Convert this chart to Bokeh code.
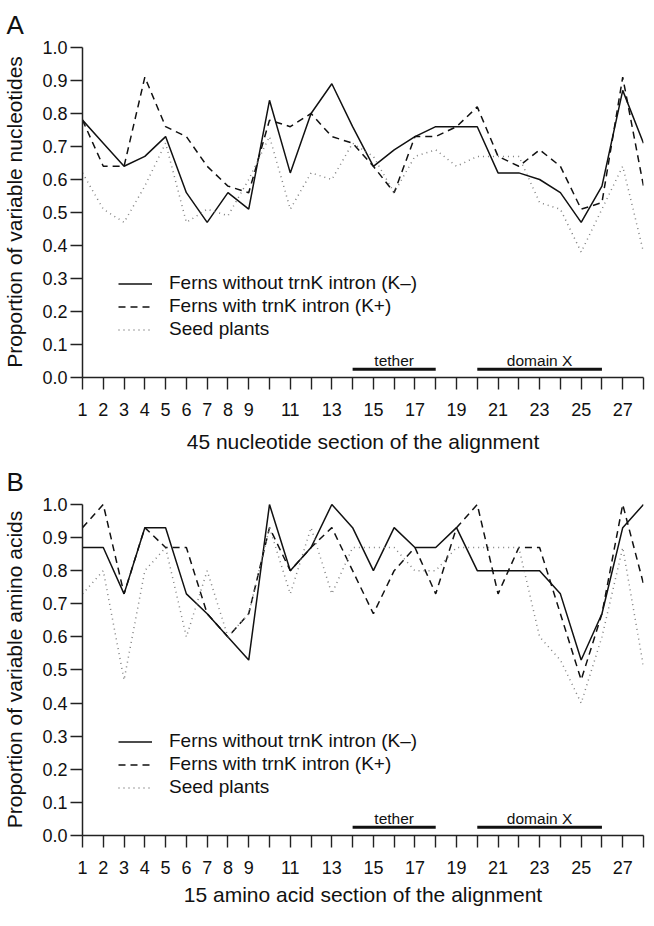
from bokeh.plotting import figure
from bokeh.models import Range1d, FixedTicker, PrintfTickFormatter
from bokeh.layouts import column
from bokeh.embed import file_html
from bokeh.resources import INLINE
from bokeh.core.properties import value

# ---------------- data ----------------
x_positions = list(range(1, 29))
x_tick_labels = ["1", "2", "3", "4", "5", "6", "7", "8", "9", "", "11", "", "13", "",
                 "15", "", "17", "", "19", "", "21", "", "23", "", "25", "", "27", ""]
y_ticks = [0.0, 0.1, 0.2, 0.3, 0.4, 0.5, 0.6, 0.7, 0.8, 0.9, 1.0]

series_names = ["Ferns without trnK intron (K\u2013)", "Ferns with trnK intron (K+)", "Seed plants"]

nuc_without = [0.78, 0.71, 0.64, 0.67, 0.73, 0.56, 0.47, 0.56, 0.51, 0.84, 0.62, 0.80, 0.89, 0.76,
               0.64, 0.69, 0.73, 0.76, 0.76, 0.76, 0.62, 0.62, 0.60, 0.56, 0.47, 0.58, 0.87, 0.71]
nuc_with = [0.78, 0.64, 0.64, 0.91, 0.76, 0.73, 0.64, 0.58, 0.56, 0.78, 0.76, 0.80, 0.73, 0.71,
            0.64, 0.56, 0.73, 0.73, 0.76, 0.82, 0.67, 0.64, 0.69, 0.64, 0.51, 0.53, 0.91, 0.58]
nuc_seed = [0.62, 0.51, 0.47, 0.58, 0.71, 0.47, 0.51, 0.49, 0.60, 0.73, 0.51, 0.62, 0.60, 0.71,
            0.67, 0.56, 0.67, 0.69, 0.64, 0.67, 0.67, 0.67, 0.53, 0.51, 0.38, 0.51, 0.64, 0.38]

aa_without = [0.87, 0.87, 0.73, 0.93, 0.93, 0.73, 0.67, 0.60, 0.53, 1.00, 0.80, 0.87, 1.00, 0.93,
              0.80, 0.93, 0.87, 0.87, 0.93, 0.80, 0.80, 0.80, 0.80, 0.73, 0.53, 0.67, 0.93, 1.00]
aa_with = [0.93, 1.00, 0.73, 0.93, 0.87, 0.87, 0.67, 0.60, 0.67, 0.93, 0.80, 0.87, 0.93, 0.80,
           0.67, 0.80, 0.87, 0.73, 0.93, 1.00, 0.73, 0.87, 0.87, 0.67, 0.47, 0.67, 1.00, 0.76]
aa_seed = [0.73, 0.80, 0.47, 0.80, 0.87, 0.60, 0.80, 0.60, 0.67, 0.93, 0.73, 0.93, 0.73, 0.87,
           0.87, 0.87, 0.80, 0.80, 0.87, 0.87, 0.87, 0.87, 0.60, 0.53, 0.40, 0.60, 0.87, 0.51]

region_names = ["tether", "domain X"]
region_start = [14, 20]
region_end = [18, 26]

FONT = "Liberation Sans"
styles = [
    dict(line_color="#111111", line_width=1.5, line_dash="solid"),
    dict(line_color="#111111", line_width=1.5, line_dash="7 5"),
    dict(line_color="#808080", line_width=1.5, line_dash="1 4"),
]


def make_panel(letter, ylabel, xlabel, series, height, b_top, b_bottom, lab_standoff):
    p = figure(width=646, height=height, output_backend="svg", toolbar_location=None,
               x_range=Range1d(1, 28), y_range=Range1d(0, 1.003),
               min_border_left=80, min_border_right=3,
               min_border_top=b_top, min_border_bottom=b_bottom,
               title=letter)
    p.outline_line_color = None
    p.xgrid.visible = False
    p.ygrid.visible = False
    p.background_fill_color = "white"

    p.title.align = "left"
    p.title.offset = -76
    p.title.standoff = 14
    p.title.text_font = FONT
    p.title.text_font_size = "26px"
    p.title.text_font_style = "normal"
    p.title.text_color = "#111111"

    for vals, name, st in zip(series, series_names, styles):
        p.line(x_positions, vals, legend_label=name, **st)

    # functional regions
    mids = [(a + b) / 2 for a, b in zip(region_start, region_end)]
    p.segment(x0=region_start, y0=[0.025] * len(region_start), x1=region_end,
              y1=[0.025] * len(region_end), line_color="#111111", line_width=3)
    p.text(x=mids, y=[0.05] * len(mids), text=region_names, text_align="center",
           text_baseline="alphabetic", text_font=value(FONT), text_font_size="15.5px",
           text_color="#111111")

    # axes
    for ax in (p.xaxis[0], p.yaxis[0]):
        ax.axis_line_color = "#222222"
        ax.axis_line_width = 1.5
        ax.major_tick_line_color = "#222222"
        ax.major_tick_line_width = 1.4
        ax.major_tick_out = 12
        ax.major_tick_in = 0
        ax.minor_tick_line_color = None
        ax.major_label_text_font = FONT
        ax.major_label_text_font_size = "18px"
        ax.major_label_text_color = "#111111"
        ax.axis_label_text_font = FONT
        ax.axis_label_text_font_size = "21px"
        ax.axis_label_text_font_style = "normal"
        ax.axis_label_text_color = "#111111"

    p.xaxis.ticker = FixedTicker(ticks=x_positions)
    p.xaxis.major_label_overrides = {t: lab for t, lab in zip(x_positions, x_tick_labels)}
    p.xaxis.major_label_standoff = 13
    p.xaxis.axis_label = xlabel
    p.xaxis.axis_label_standoff = lab_standoff

    p.yaxis.ticker = FixedTicker(ticks=y_ticks)
    p.yaxis.formatter = PrintfTickFormatter(format="%.1f")
    p.yaxis.bounds = (0, 1)
    p.yaxis.major_label_standoff = 3
    p.yaxis.axis_label = ylabel
    p.yaxis.axis_label_standoff = 13

    lg = p.legend[0]
    lg.location = (36, 37)
    lg.padding = 0
    lg.margin = 0
    lg.spacing = 1
    lg.border_line_alpha = 0
    lg.background_fill_alpha = 0
    lg.glyph_width = 34
    lg.glyph_height = 21
    lg.label_height = 21
    lg.label_standoff = 17
    lg.label_text_font = FONT
    lg.label_text_font_size = "19px"
    lg.label_text_color = "#111111"
    return p


pA = make_panel("A", "Proportion of variable nucleotides", "45 nucleotide section of the alignment",
                [nuc_without, nuc_with, nuc_seed], 457, 44, 80, 11)
pB = make_panel("B", "Proportion of variable amino acids", "15 amino acid section of the alignment",
                [aa_without, aa_with, aa_seed], 453, 45, 75, 6)

layout = column(pA, pB, spacing=0)
open("out.html", "w").write(file_html(layout, INLINE))
